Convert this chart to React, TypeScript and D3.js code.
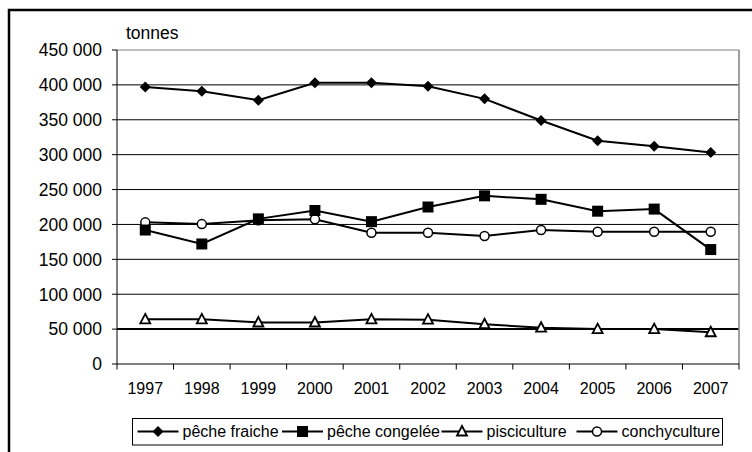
import React from "react";
import * as d3 from "d3";

const years = ["1997","1998","1999","2000","2001","2002","2003","2004","2005","2006","2007"];
const pecheFraiche = [397000, 391000, 378000, 403000, 403000, 398000, 380000, 349000, 320000, 312000, 303000];
const pecheCongelee = [192000, 172000, 208000, 220000, 204000, 225000, 241000, 236000, 219000, 222000, 164000];
const pisciculture = [64000, 64000, 59500, 59500, 64000, 63500, 57000, 52000, 50000, 50000, 45500];
const conchyculture = [203000, 200500, 206000, 207500, 188000, 188000, 183500, 192000, 189500, 189500, 189500];
const yTicks = [0, 50000, 100000, 150000, 200000, 250000, 300000, 350000, 400000, 450000];
const seriesNames = ["pêche fraiche", "pêche congelée", "pisciculture", "conchyculture"];
const unitLabel = "tonnes";

const FONT = "'Liberation Sans', Arial, sans-serif";
const L = 117, R = 739, T = 50, B = 364;

const fmt = (v: number) => {
  const s = d3.format(",")(v);
  return s.replace(/,/g, " ");
};

type Kind = "diamond" | "square" | "triangle" | "circle";

function Marker({ kind, x, y }: { kind: Kind; x: number; y: number }) {
  if (kind === "diamond") {
    return <path d={`M${x},${y - 5.5}L${x + 5.5},${y}L${x},${y + 5.5}L${x - 5.5},${y}Z`} fill="#000" />;
  }
  if (kind === "square") {
    return <rect x={x - 5.5} y={y - 5.5} width={11} height={11} fill="#000" />;
  }
  if (kind === "triangle") {
    return <path d={`M${x},${y - 5.5}L${x + 5},${y + 4}L${x - 5},${y + 4}Z`} fill="#fff" stroke="#000" strokeWidth={1.8} />;
  }
  return <circle cx={x} cy={y} r={4.5} fill="#fff" stroke="#000" strokeWidth={1.5} />;
}

export default function App() {
  const x = d3.scaleBand().domain(years).range([L, R]);
  const y = d3.scaleLinear().domain([0, 450000]).range([B, T]);
  const cx = (yr: string) => (x(yr) as number) + x.bandwidth() / 2;

  const series: { name: string; values: number[]; kind: Kind }[] = [
    { name: seriesNames[0], values: pecheFraiche, kind: "diamond" },
    { name: seriesNames[1], values: pecheCongelee, kind: "square" },
    { name: seriesNames[2], values: pisciculture, kind: "triangle" },
    { name: seriesNames[3], values: conchyculture, kind: "circle" },
  ];
  const line = d3.line<number>().x((_, i) => cx(years[i])).y((v) => y(v));
  const drawOrder = [3, 2, 1, 0];

  const boundaries = d3.range(years.length + 1).map((i) => L + i * x.step());

  const legendItems = [
    { start: 137.5, kind: "diamond" as Kind },
    { start: 282, kind: "square" as Kind },
    { start: 441.5, kind: "triangle" as Kind },
    { start: 576.5, kind: "circle" as Kind },
  ];

  return (
    <svg width={752} height={452} style={{ position: "absolute", left: 0, top: 0, background: "#fff" }} fontFamily={FONT}>
      <rect x={0} y={0} width={752} height={452} fill="#fff" />
      <rect x={9} y={10} width={800} height={500} fill="none" stroke="#000" strokeWidth={2.5} />
      {/* gridlines */}
      {yTicks.filter((t) => t > 0).map((t) => (
        <line key={t} x1={L} x2={R} y1={y(t)} y2={y(t)} stroke={t === 450000 ? "#808080" : "#000"} strokeWidth={t === 50000 ? 2 : 1} />
      ))}
      <line x1={R} x2={R} y1={T} y2={B} stroke="#808080" strokeWidth={1.5} />
      {/* axes */}
      <line x1={L} x2={L} y1={T} y2={B} stroke="#000" strokeWidth={1} />
      <line x1={L} x2={R} y1={B} y2={B} stroke="#000" strokeWidth={1} />
      {yTicks.map((t) => (
        <g key={t}>
          <line x1={L - 5} x2={L} y1={y(t)} y2={y(t)} stroke="#000" />
          <text x={102} y={y(t) + 6.3} textAnchor="end" fontSize={17.5} fill="#000">{fmt(t)}</text>
        </g>
      ))}
      {boundaries.map((bx, i) => (
        <line key={i} x1={bx} x2={bx} y1={B} y2={B + 5.5} stroke="#000" />
      ))}
      {years.map((yr) => (
        <text key={yr} x={cx(yr)} y={393.5} textAnchor="middle" fontSize={16} fill="#000">{yr}</text>
      ))}
      <text x={126} y={39} fontSize={17.5} fill="#000">{unitLabel}</text>
      {/* series */}
      {drawOrder.map((si) => {
        const s = series[si];
        return (
          <g key={s.name}>
            <path d={line(s.values) || ""} fill="none" stroke="#000" strokeWidth={2} />
            {s.values.map((v, i) => (
              <Marker key={i} kind={s.kind} x={cx(years[i])} y={y(v)} />
            ))}
          </g>
        );
      })}
      {/* legend */}
      <rect x={132.5} y={418.5} width={590} height={26.5} fill="#fff" stroke="#000" strokeWidth={1} />
      {legendItems.map((it, i) => (
        <g key={i}>
          <line x1={it.start} x2={it.start + 41} y1={431.5} y2={431.5} stroke="#000" strokeWidth={2} />
          <Marker kind={it.kind} x={it.start + 20.5} y={431.5} />
          <text x={it.start + 45} y={437} fontSize={16} fill="#000">{seriesNames[i]}</text>
        </g>
      ))}
    </svg>
  );
}
